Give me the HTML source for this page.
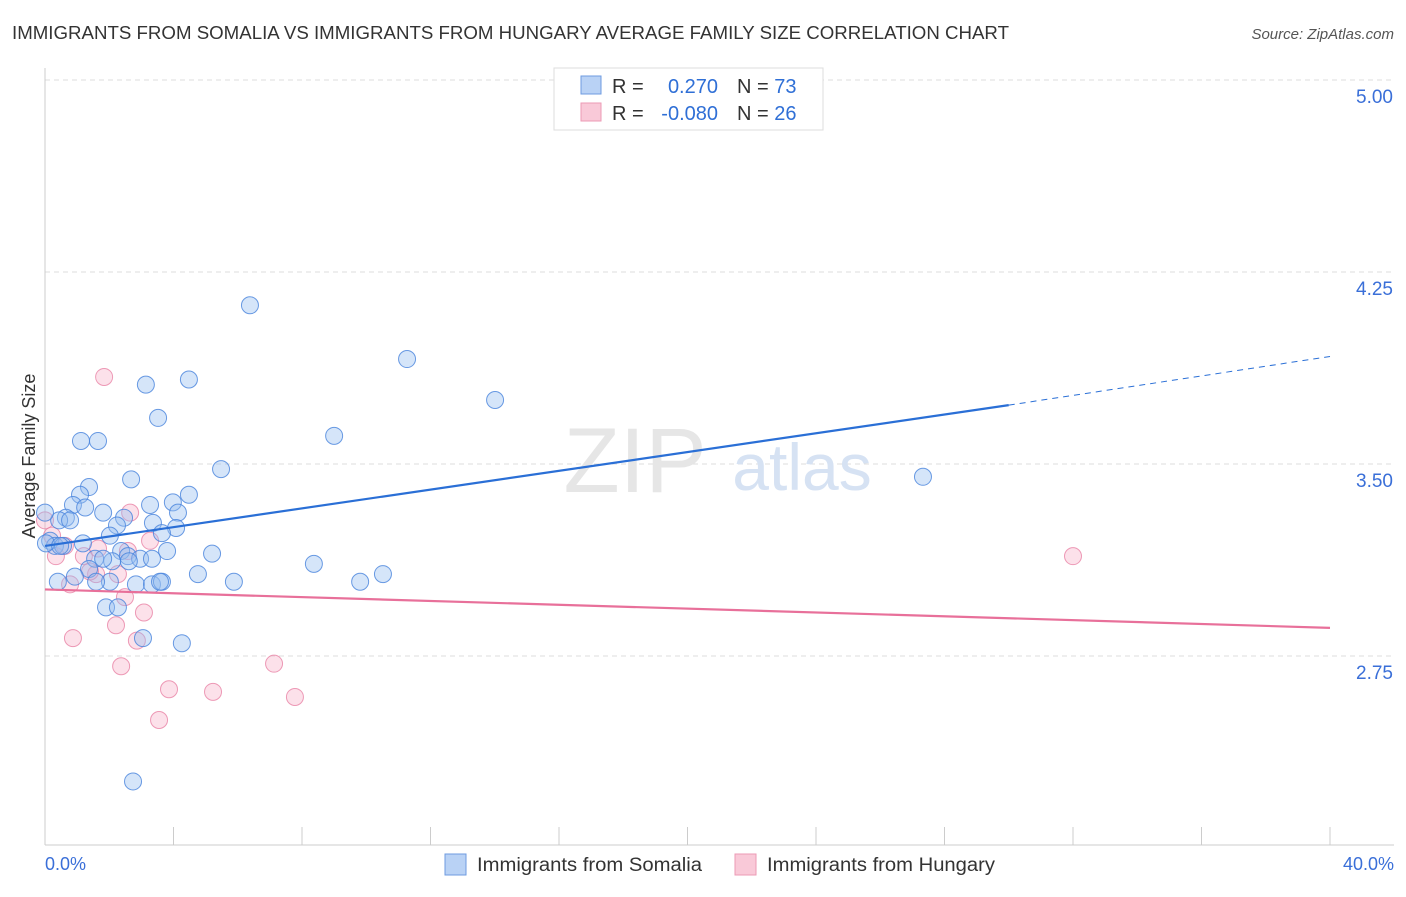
<!DOCTYPE html>
<html><head><meta charset="utf-8"><style>
body{margin:0;background:#fff;font-family:"Liberation Sans",sans-serif;}
svg text{font-family:"Liberation Sans",sans-serif;}
</style></head><body>
<svg width="1406" height="892">
<text x="12" y="39" font-size="18" fill="#333" textLength="997" lengthAdjust="spacingAndGlyphs">IMMIGRANTS FROM SOMALIA VS IMMIGRANTS FROM HUNGARY AVERAGE FAMILY SIZE CORRELATION CHART</text>
<text x="1394" y="39" font-size="15" fill="#555" font-style="italic" text-anchor="end">Source: ZipAtlas.com</text>
<g id="grid"></g>
<text x="635" y="492" font-size="92" fill="#e6e6e6" font-family="Liberation Serif" text-anchor="middle">ZIP</text>
<text x="802" y="490" font-size="66" fill="#d6e2f3" text-anchor="middle">atlas</text>
<line x1="45" y1="68" x2="45" y2="845" stroke="#ccc"/>
<line x1="45" y1="845" x2="1394" y2="845" stroke="#ccc"/>
<text x="35" y="456" font-size="18" fill="#333" text-anchor="middle" transform="rotate(-90 35 456)">Average Family Size</text>
<text x="45" y="870" font-size="18" fill="#3a6fd8">0.0%</text>
<text x="1394" y="870" font-size="18" fill="#3a6fd8" text-anchor="end">40.0%</text>
<g id="marks"></g>
<g>
<rect x="554" y="68" width="269" height="62" fill="#fff" stroke="#ddd"/>
<rect x="581" y="76" width="20" height="18" fill="#b9d2f5" stroke="#6e9be0"/>
<rect x="581" y="103" width="20" height="18" fill="#f9c9d8" stroke="#ec9ab5"/>
<text x="612" y="93" font-size="20" fill="#333">R =</text>
<text x="718" y="93" font-size="20" fill="#2f6fd6" text-anchor="end">0.270</text>
<text x="737" y="93" font-size="20" fill="#333">N = <tspan fill="#2f6fd6">73</tspan></text>
<text x="612" y="120" font-size="20" fill="#333">R =</text>
<text x="718" y="120" font-size="20" fill="#2f6fd6" text-anchor="end">-0.080</text>
<text x="737" y="120" font-size="20" fill="#333">N = <tspan fill="#2f6fd6">26</tspan></text>
</g>
<g>
<rect x="445" y="854" width="21" height="21" fill="#b9d2f5" stroke="#6e9be0"/>
<text x="477" y="871" font-size="19" fill="#333" textLength="225" lengthAdjust="spacingAndGlyphs">Immigrants from Somalia</text>
<rect x="735" y="854" width="21" height="21" fill="#f9c9d8" stroke="#ec9ab5"/>
<text x="767" y="871" font-size="19" fill="#333" textLength="228" lengthAdjust="spacingAndGlyphs">Immigrants from Hungary</text>
</g>
</svg>
<script>
const yTicks=[2.75,3.50,4.25,5.00];
const yTickLabels=["2.75","3.50","4.25","5.00"];
const somaliaX=[6.38,11.27,14.01,3.14,4.48,3.52,9.00,1.12,1.65,5.48,27.33,2.68,1.37,1.09,0.87,1.25,3.27,3.98,4.48,4.14,1.81,0.65,0.44,2.46,2.24,3.36,4.08,2.02,3.64,0.00,0.16,0.31,0.56,1.18,2.37,2.58,3.80,5.20,1.56,2.09,2.96,3.33,2.61,8.37,1.37,1.81,0.93,0.40,2.02,2.83,3.33,3.64,5.88,4.76,9.81,10.52,1.90,2.27,3.05,4.26,2.74,3.58,1.59,0.03,0.78,0.47];
const somaliaY=[4.12,3.91,3.75,3.81,3.83,3.68,3.61,3.59,3.59,3.48,3.45,3.44,3.41,3.38,3.34,3.33,3.34,3.35,3.38,3.31,3.31,3.29,3.28,3.29,3.26,3.27,3.25,3.22,3.23,3.31,3.20,3.18,3.18,3.19,3.16,3.14,3.16,3.15,3.13,3.12,3.13,3.13,3.12,3.11,3.09,3.13,3.06,3.04,3.04,3.03,3.03,3.04,3.04,3.07,3.04,3.07,2.94,2.94,2.82,2.80,2.26,3.04,3.04,3.19,3.28,3.18];
const hungaryX=[1.84,2.65,3.27,0.00,0.22,0.34,0.78,1.65,1.21,2.27,1.59,2.49,3.08,2.21,0.87,2.86,2.37,7.13,3.86,5.23,7.78,3.55,32.00,2.58,0.62,1.40];
const hungaryY=[3.84,3.31,3.20,3.28,3.22,3.14,3.03,3.17,3.14,3.07,3.07,2.98,2.92,2.87,2.82,2.81,2.71,2.72,2.62,2.61,2.59,2.50,3.14,3.16,3.18,3.08];
const somaliaTrend=[3.18,3.73,3.92];
const trendX=[0,30,40];
const hungaryTrend=[3.01,2.86];
const X=v=>45+v/40*1285;
const Y=v=>80+(5-v)*256;
const NS="http://www.w3.org/2000/svg";
const grid=document.getElementById('grid'),marks=document.getElementById('marks');
function mk(tag,at,parent){const e=document.createElementNS(NS,tag);for(const k in at)e.setAttribute(k,at[k]);parent.appendChild(e);return e;}
yTicks.forEach((t,i)=>{
 const l=mk('line',{x1:45,x2:1394,y1:Y(t),y2:Y(t),stroke:'#ddd','stroke-dasharray':'5,4'},grid);
 
 
 const tx=mk('text',{x:1393,y:Y(t)+23,'font-size':19,fill:'#3a6fd8','text-anchor':'end'},grid);
 tx.textContent=yTickLabels[i];
 
 
});
for(let i=0;i<=10;i++){const l=mk('line',{x1:X(i*4),x2:X(i*4),y1:827,y2:845,stroke:'#ccc'},grid);
 
 }
hungaryX.forEach((x,i)=>{const c=mk('circle',{cx:X(x),cy:Y(hungaryY[i]),r:8.5,fill:'rgba(246,170,195,0.35)',stroke:'rgba(232,130,165,0.8)','stroke-width':1},marks);
 
 });
somaliaX.forEach((x,i)=>{const c=mk('circle',{cx:X(x),cy:Y(somaliaY[i]),r:8.5,fill:'rgba(150,190,240,0.4)',stroke:'rgba(70,130,220,0.8)','stroke-width':1},marks);
 
 });
let t1=mk('line',{x1:X(trendX[0]),y1:Y(somaliaTrend[0]),x2:X(trendX[1]),y2:Y(somaliaTrend[1]),stroke:'#2a6fd6','stroke-width':2.2},marks);


let t2=mk('line',{x1:X(trendX[1]),y1:Y(somaliaTrend[1]),x2:X(trendX[2]),y2:Y(somaliaTrend[2]),stroke:'#2a6fd6','stroke-width':1,'stroke-dasharray':'6,5'},marks);


let t3=mk('line',{x1:X(0),y1:Y(hungaryTrend[0]),x2:X(40),y2:Y(hungaryTrend[1]),stroke:'#e8709a','stroke-width':2.2},marks);


</script>
</body></html>
